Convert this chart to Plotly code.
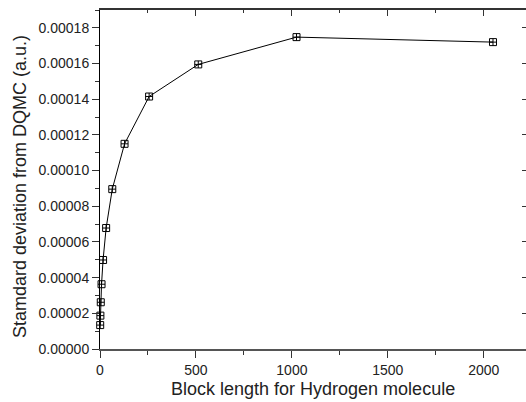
import plotly.graph_objects as go

block_length = [1, 2, 4, 8, 16, 32, 64, 128, 256, 512, 1024, 2048]
std_dev = [0.0000134, 0.0000187, 0.0000262, 0.0000363, 0.0000499, 0.0000678,
           0.0000896, 0.0001150, 0.0001415, 0.0001595, 0.0001748, 0.0001720]
y_ticks = [0.0, 0.00002, 0.00004, 0.00006, 0.00008, 0.00010, 0.00012, 0.00014, 0.00016, 0.00018]
x_ticks = [0, 500, 1000, 1500, 2000]
x_title = "Block length for Hydrogen molecule"
y_title = "Stamdard deviation from DQMC (a.u.)"

FONT = "Liberation Sans, Arial, sans-serif"
XR = [0, 2220]
YR = [0, 0.00019]

fig = go.Figure()
fig.add_trace(go.Scatter(
    x=block_length, y=std_dev, mode="lines+markers",
    line=dict(color="black", width=1),
    marker=dict(symbol="square-cross-open", size=7, color="black", line=dict(width=1)),
    cliponaxis=False, showlegend=False, hoverinfo="skip"))
fig.add_trace(go.Scatter(
    x=block_length, y=std_dev, mode="lines", xaxis="x2", yaxis="y2",
    line=dict(color="rgba(0,0,0,0)", width=0), showlegend=False, hoverinfo="skip"))

fig.update_layout(
    width=526, height=402,
    margin=dict(l=100, r=0, t=10, b=53),
    paper_bgcolor="white", plot_bgcolor="white",
    font=dict(family=FONT, size=14, color="#222"),
    xaxis=dict(range=XR, tickvals=x_ticks, ticktext=[str(v) for v in x_ticks],
               showgrid=False, zeroline=False, showline=True, linecolor="#555", linewidth=1.5,
               ticks="outside", ticklen=7, tickcolor="#333", tickwidth=1,
               minor=dict(dtick=250, tick0=0, ticks="outside", ticklen=4, tickcolor="#333", showgrid=False),
               tickfont=dict(size=14, family=FONT, color="#222")),
    yaxis=dict(range=YR, tickvals=y_ticks, ticktext=[f"{v:.5f}" for v in y_ticks],
               showgrid=False, zeroline=False, showline=True, linecolor="black", linewidth=1,
               ticks="outside", ticklen=7, tickcolor="#333", tickwidth=1,
               minor=dict(dtick=0.00001, tick0=0, ticks="outside", ticklen=4, tickcolor="#333", showgrid=False),
               tickfont=dict(size=14, family=FONT, color="#222")),
    xaxis2=dict(range=XR, overlaying="x", side="top", tickvals=x_ticks, showticklabels=False,
                showgrid=False, zeroline=False, showline=True, linecolor="#333", linewidth=1.5,
                ticks="inside", ticklen=6, tickcolor="#333", tickwidth=1,
                minor=dict(dtick=250, tick0=0, ticks="inside", ticklen=3, tickcolor="#333", showgrid=False)),
    yaxis2=dict(range=YR, overlaying="y", side="right", tickvals=y_ticks, showticklabels=False,
                showgrid=False, zeroline=False, showline=True, linecolor="#333", linewidth=1,
                ticks="inside", ticklen=4, tickcolor="#333", tickwidth=1),
    annotations=[
        dict(text=x_title, xref="paper", yref="paper", x=0.5, y=-0.118,
             xanchor="center", yanchor="middle", showarrow=False,
             font=dict(size=18, family=FONT, color="#222")),
        dict(text=y_title, xref="paper", yref="paper", x=(19.5 - 100) / 426, y=0.479,
             xanchor="center", yanchor="middle", textangle=-90, showarrow=False,
             font=dict(size=18, family=FONT, color="#222")),
    ],
)

fig.write_html("out.html")
